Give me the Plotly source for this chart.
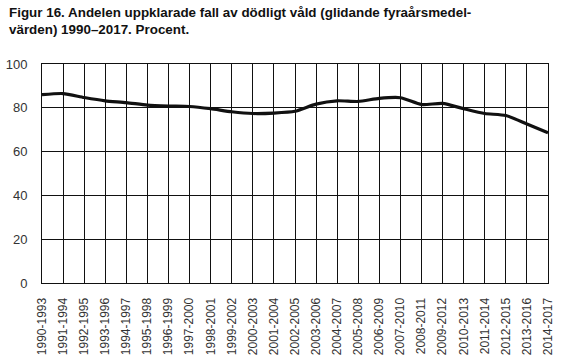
import plotly.graph_objects as go

periods = ["1990-1993", "1991-1994", "1992-1995", "1993-1996", "1994-1997", "1995-1998",
           "1996-1999", "1997-2000", "1998-2001", "1999-2002", "2000-2003", "2001-2004",
           "2002-2005", "2003-2006", "2004-2007", "2005-2008", "2006-2009", "2007-2010",
           "2008-2011", "2009-2012", "2010-2013", "2011-2014", "2012-2015", "2013-2016",
           "2014-2017"]
share_solved = [86.0, 86.5, 84.7, 83.2, 82.4, 81.2, 80.8, 80.6, 79.6, 78.2, 77.4, 77.6,
                78.4, 81.7, 83.2, 82.9, 84.3, 84.6, 81.5, 82.0, 79.6, 77.4, 76.5, 72.6, 68.6]
y_ticks = [0, 20, 40, 60, 80, 100]

title_text = ("Figur 16. Andelen uppklarade fall av dödligt våld (glidande fyraårsmedel-"
              "<br>värden) 1990–2017. Procent.")

W, H = 564, 356
L, R, T, B = 42, 16, 64, 73
pw, ph = W - L - R, H - T - B

fig = go.Figure()
fig.add_trace(go.Scatter(
    x=list(range(len(periods))), y=share_solved, mode="lines",
    line=dict(color="#111111", width=3.2, shape="spline", smoothing=0.6),
    hoverinfo="skip", showlegend=False,
))

fig.add_annotation(
    text="<b>" + title_text + "</b>", xref="paper", yref="paper",
    x=-(L - 7) / pw, y=1 + (T - 3) / ph, xanchor="left", yanchor="top",
    align="left", showarrow=False,
    font=dict(size=13.4, color="#111111", family="Liberation Sans, Arial, sans-serif"),
)

fig.update_layout(
    width=W, height=H,
    margin=dict(l=L, r=R, t=T, b=B, autoexpand=False),
    paper_bgcolor="white", plot_bgcolor="white",
    font=dict(family="Liberation Sans, Arial, sans-serif", color="#222222"),
    xaxis=dict(
        range=[0, len(periods) - 1], tickmode="array",
        tickvals=list(range(len(periods))), ticktext=periods,
        tickangle=-90, tickfont=dict(size=12, color="#333333"),
        showgrid=True, gridcolor="#111111", gridwidth=1,
        showline=True, linecolor="#111111", linewidth=1, mirror=True,
        ticks="", ticklabelstandoff=9, zeroline=False, automargin=False,
    ),
    yaxis=dict(
        range=[0, 100], tickmode="array", tickvals=y_ticks,
        tickfont=dict(size=13, color="#333333"),
        showgrid=True, gridcolor="#111111", gridwidth=1,
        showline=True, linecolor="#111111", linewidth=1, mirror=True,
        ticks="", ticklabelstandoff=11, zeroline=False, automargin=False,
    ),
)

fig.write_html("out.html")
